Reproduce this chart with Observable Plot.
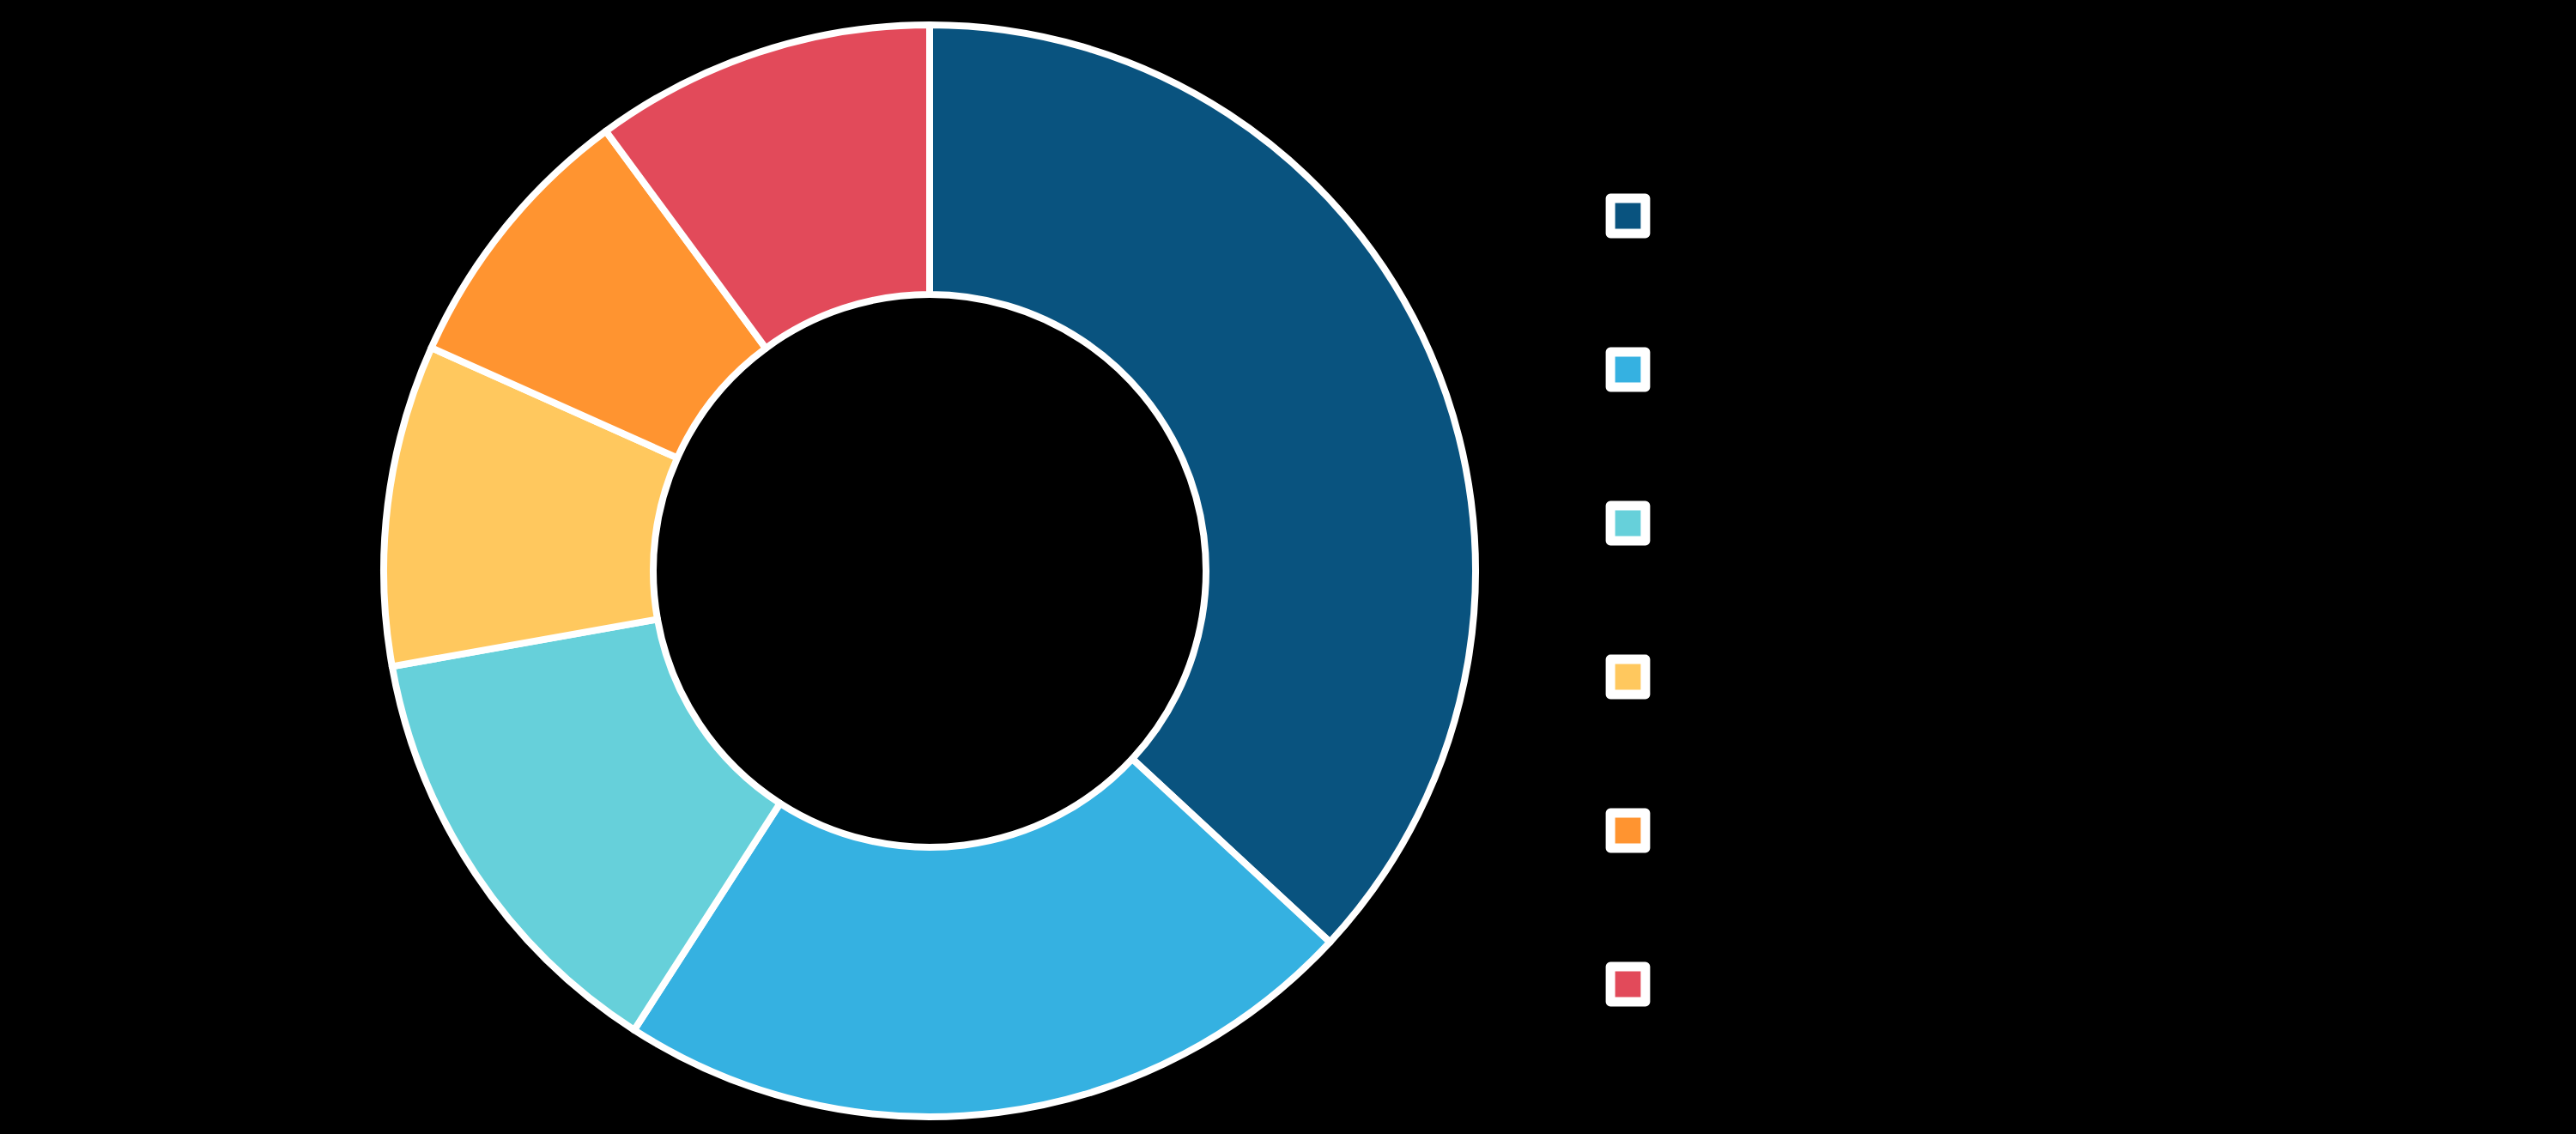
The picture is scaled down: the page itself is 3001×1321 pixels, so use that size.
<!DOCTYPE html>
<html>
<head>
<meta charset="utf-8">
<script src="https://cdn.jsdelivr.net/npm/d3@7"></script>
<script src="https://cdn.jsdelivr.net/npm/@observablehq/plot@0.6"></script>
<style>
  html, body { margin: 0; padding: 0; background: #000; }
  #chart svg { display: block; background: #000; }
</style>
</head>
<body>
<div id="chart"></div>
<script>
// ---- data ----
const categories = ["China", "Japan", "India", "South Korea", "Australia", "Rest of Asia Pacific"];
const shares = [36.9, 22.2, 13.1, 9.5, 8.2, 10.1];
const colors = ["#09537f", "#35b1e1", "#66d0da", "#ffc85e", "#ff9430", "#e24a5a"];
const centerLines = ["Market Share", "2023 (%)"];

const data = categories.map((name, i) => ({name, share: shares[i]}));

// ---- layout ----
const W = 3001, H = 1321;
const cx = 1083, cy = 665, rOuter = 636, rInner = 322;

const chart = Plot.plot({
  width: W,
  height: H,
  margin: 0,
  style: {background: "#000", fontFamily: "Roboto, 'Liberation Sans', sans-serif"},
  y: {type: "point", domain: categories, range: [251, 1146], padding: 0, axis: null},
  color: {domain: categories, range: colors},
  marks: [
    Plot.text([centerLines.join("\n")], {
      frameAnchor: "top-left", dx: cx, dy: 684,
      textAnchor: "middle", lineAnchor: "middle",
      fontSize: 30, fill: "#000", lineHeight: 1.3
    }),
    Plot.dot(data, {
      y: "name", frameAnchor: "left", dx: 1896,
      symbol: "square", r: 23, fill: "name",
      stroke: "white", strokeWidth: 11, strokeLinejoin: "round"
    }),
    Plot.text(data, {
      y: "name", text: "name", frameAnchor: "left", dx: 1946,
      textAnchor: "start", fill: "#000", fontSize: 54
    })
  ]
});

// donut slices, coloured through Plot's own color scale
const color = chart.scale("color");
const colorOf = name => color.range[color.domain.indexOf(name)];
const arcs = d3.pie().sort(null).value(d => d.share)(data);
const arc = d3.arc().innerRadius(rInner).outerRadius(rOuter);
const svg = d3.select(chart.tagName.toLowerCase() === "svg" ? chart : chart.querySelector("svg"));
const g = svg.insert("g", ":first-child").attr("transform", `translate(${cx},${cy})`);
g.selectAll("path")
  .data(arcs)
  .join("path")
  .attr("d", arc)
  .attr("fill", d => colorOf(d.data.name))
  .attr("stroke", "white")
  .attr("stroke-width", 8)
  .attr("stroke-linejoin", "round");

document.getElementById("chart").appendChild(chart);
</script>
</body>
</html>
